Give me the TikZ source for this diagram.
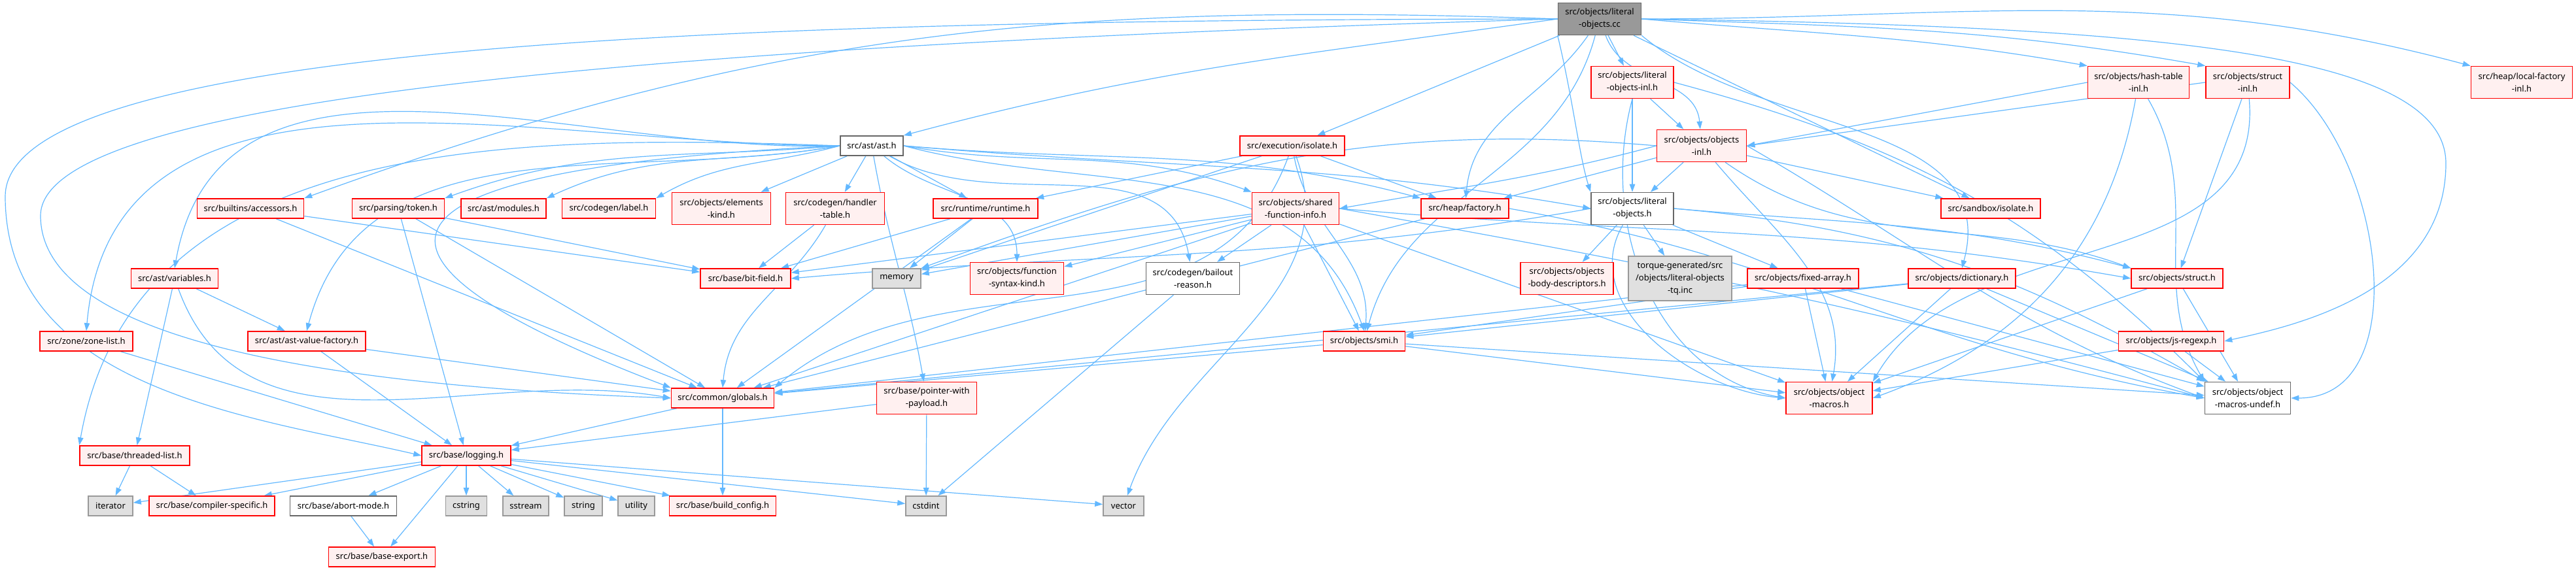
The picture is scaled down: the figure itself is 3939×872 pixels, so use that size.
\documentclass[tikz,border=0pt]{standalone}
\usepackage{fontspec}
\setmainfont{Noto Sans}
\usetikzlibrary{arrows.meta}

\definecolor{edgeblue}{HTML}{63B8FF}
\definecolor{redfill}{HTML}{FFF0F0}
\definecolor{grayfill}{HTML}{E0E0E0}
\definecolor{rootfill}{HTML}{999999}
\definecolor{grayline}{HTML}{999999}
\definecolor{darkline}{HTML}{666666}

\pgfdeclarelayer{edges}
\pgfsetlayers{edges,main}

\def\pxu{0.4} % one pixel of the graph, in pt

\tikzset{
  file/.style={draw, line width=0.64pt, align=center, inner sep=0pt,
    font=\fontsize{5.2}{7.6}\selectfont, minimum height=12pt},
  wd/.style={minimum width=#1*\pxu pt},
  redfile/.style={file, draw=red, fill=redfill},
  sysfile/.style={file, draw=grayline, fill=grayfill},
  plainfile/.style={file, draw=darkline, fill=white},
  rootfile/.style={file, draw=darkline, fill=rootfill},
  two/.style={minimum height=19.6pt},
  three/.style={minimum height=27.2pt},
  edge/.style={draw=edgeblue, line width=0.48pt, -{Triangle[length=4.8pt,width=3.4pt]}},
}

\begin{document}
\begin{tikzpicture}[x=\pxu pt, y=-\pxu pt]
% ---- row y-coordinates ----
\def\yA{29}    % the .cc file
\def\yB{126}   % -inl headers
\def\yC{223}   % ast.h, isolate.h, objects-inl.h
\def\yD{319}   % first wide row
\def\yE{426}   % second wide row
\def\yF{522}   % zone-list, smi, js-regexp
\def\yG{609}   % globals, object-macros
\def\yH{697}   % logging
\def\yI{774}   % system headers
\def\yJ{852}   % base-export

\useasboundingbox (0,0) rectangle (3939,872);

% ---- top ----
\node[rootfile, two, wd=127] (root) at (2446,\yA) {src/objects/literal\\-objects.cc};

% ---- -inl headers ----
\node[redfile, two, wd=126] (litinl) at (2496,\yB) {src/objects/literal\\-objects-inl.h};
\node[redfile, two, wd=155] (hashinl) at (3270,\yB) {src/objects/hash-table\\-inl.h};
\node[redfile, two, wd=128] (structinl) at (3437,\yB) {src/objects/struct\\-inl.h};
\node[redfile, two, wd=155] (localfac) at (3856,\yB) {src/heap/local-factory\\-inl.h};

% ---- row C ----
\node[plainfile, wd=96] (ast) at (1333,\yC) {src/ast/ast.h};
\node[redfile, wd=160] (exiso) at (1976,\yC) {src/execution/isolate.h};
\node[redfile, two, wd=137] (objinl) at (2602,\yC) {src/objects/objects\\-inl.h};

% ---- row D ----
\node[redfile, wd=163] (accessors) at (383,\yD) {src/builtins/accessors.h};
\node[redfile, wd=141] (token) at (609,\yD) {src/parsing/token.h};
\node[redfile, wd=130] (modules) at (770,\yD) {src/ast/modules.h};
\node[redfile, wd=143] (label) at (931,\yD) {src/codegen/label.h};
\node[redfile, two, wd=151] (elements) at (1103,\yD) {src/objects/elements\\-kind.h};
\node[redfile, two, wd=151] (handler) at (1277,\yD) {src/codegen/handler\\-table.h};
\node[redfile, wd=160] (runtime) at (1507,\yD) {src/runtime/runtime.h};
\node[redfile, two, wd=133] (sfi) at (1981,\yD) {src/objects/shared\\-function-info.h};
\node[redfile, wd=134] (factory) at (2240,\yD) {src/heap/factory.h};
\node[plainfile, two, wd=126] (litobj) at (2496,\yD) {src/objects/literal\\-objects.h};
\node[redfile, wd=152] (sbiso) at (3044,\yD) {src/sandbox/isolate.h};

% ---- row E ----
\node[redfile, wd=133] (variables) at (267,\yE) {src/ast/variables.h};
\node[redfile, wd=138] (bitfield) at (1140,\yE) {src/base/bit-field.h};
\node[sysfile, wd=74] (memory) at (1371,\yE) {memory};
\node[redfile, two, wd=143] (fsk) at (1555,\yE) {src/objects/function\\-syntax-kind.h};
\node[plainfile, two, wd=143] (bailout) at (1824,\yE) {src/codegen/bailout\\-reason.h};
\node[redfile, two, wd=142] (obd) at (2396,\yE) {src/objects/objects\\-body-descriptors.h};
\node[sysfile, three, wd=158] (torque) at (2569,\yE) {torque-generated/src\\/objects/literal-objects\\-tq.inc};
\node[redfile, wd=170] (fixedarr) at (2757,\yE) {src/objects/fixed-array.h};
\node[redfile, wd=164] (dict) at (3000,\yE) {src/objects/dictionary.h};
\node[redfile, wd=140] (structh) at (3329,\yE) {src/objects/struct.h};

% ---- row F ----
\node[redfile, wd=142] (zonelist) at (132,\yF) {src/zone/zone-list.h};
\node[redfile, wd=180] (avf) at (469,\yF) {src/ast/ast-value-factory.h};
\node[redfile, wd=125] (smi) at (2086,\yF) {src/objects/smi.h};
\node[redfile, wd=161] (jsregexp) at (3320,\yF) {src/objects/js-regexp.h};

% ---- row G ----
\node[redfile, wd=157] (globals) at (1105,\yG) {src/common/globals.h};
\node[redfile, two, wd=153] (pwp) at (1417,\yG) {src/base/pointer-with\\-payload.h};
\node[redfile, two, wd=132] (objmacros) at (2797,\yG) {src/objects/object\\-macros.h};
\node[plainfile, two, wd=131] (undef) at (3437,\yG) {src/objects/object\\-macros-undef.h};

% ---- row H ----
\node[redfile, wd=168] (threaded) at (206,\yH) {src/base/threaded-list.h};
\node[redfile, wd=136] (logging) at (713,\yH) {src/base/logging.h};

% ---- row I ----
\node[sysfile, wd=68] (iterator) at (169,\yI) {iterator};
\node[redfile, wd=192] (compspec) at (324,\yI) {src/base/compiler-specific.h};
\node[plainfile, wd=163] (abort) at (525,\yI) {src/base/abort-mode.h};
\node[sysfile, wd=63] (cstring) at (713,\yI) {cstring};
\node[sysfile, wd=70] (sstream) at (804,\yI) {sstream};
\node[sysfile, wd=58] (string) at (892,\yI) {string};
\node[sysfile, wd=56] (utility) at (973,\yI) {utility};
\node[redfile, wd=163] (buildcfg) at (1105,\yI) {src/base/build\_config.h};
\node[sysfile, wd=62] (cstdint) at (1416,\yI) {cstdint};
\node[sysfile, wd=62] (vector) at (1718,\yI) {vector};

% ---- row J ----
\node[redfile, wd=163] (baseexport) at (584,\yJ) {src/base/base-export.h};

\begin{pgfonlayer}{edges}
% ---- edges from the .cc file ----
\draw[edge] (root) -- (litinl);
\draw[edge] (root) to[out=-70,in=95] (objinl);
\draw[edge] (root.south west) .. controls (2405,150) and (2415,240) .. (litobj.north west);
\draw[edge] (root) to[out=-105,in=75] (smi);
\draw[edge] (root) to[out=-125,in=85] (factory);
\draw[edge] (root) -- (exiso);
\draw[edge] (root.west) to[out=188,in=15] (ast.north east);
\draw[edge] (root.west) to[out=178,in=20] (accessors.north east);
\draw[edge] (root.west) .. controls (1200,30) and (10,60) .. (8,300) .. controls (8,600) and (400,640) .. (logging.west);
\draw[edge] (root.west) .. controls (1000,70) and (62,150) .. (62,330) .. controls (62,520) and (500,590) .. (globals.west);
\draw[edge] (root.east) to[out=-5,in=170] (hashinl.north west);
\draw[edge] (root.east) to[out=-2,in=170] (structinl.north west);
\draw[edge] (root.east) to[out=0,in=165] (localfac.north west);
\draw[edge] (root) -- (sbiso);
\draw[edge] (root.south east) to[out=-40,in=75] (dict.north);
\draw[edge] (root.east) .. controls (3300,40) and (3740,80) .. (3740,250) .. controls (3740,450) and (3500,500) .. (jsregexp.east);

% ---- edges from the -inl headers ----
\draw[edge] (litinl) -- (objinl);
\draw[edge] (litinl) -- (litobj);
\draw[edge] (litinl.south) to[out=-105,in=170] (objmacros.west);
\draw[edge] (litinl.east) to[out=-15,in=135] (undef.north west);
\draw[edge] (hashinl.west) -- (objinl.east);
\draw[edge] (hashinl) to[out=-100,in=20] (objmacros.east);
\draw[edge] (hashinl) to[out=-60,in=120] (undef.north west);
\draw[edge] (structinl.west) -- (objinl.east);
\draw[edge] (structinl) -- (structh);
\draw[edge] (structinl) to[out=-85,in=60] (objmacros.north east);
\draw[edge] (structinl.east) to[out=-40,in=0] (undef.east);

% ---- edges from objects-inl.h ----
\draw[edge] (objinl) -- (litobj);
\draw[edge] (objinl) -- (factory);
\draw[edge] (objinl.west) to[out=195,in=10] (sfi.east);
\draw[edge] (objinl.west) to[out=175,in=20] (memory.north east);
\draw[edge] (objinl) -- (sbiso);
\draw[edge] (objinl) to[out=-50,in=80] (objmacros);
\draw[edge] (objinl.east) to[out=-30,in=160] (undef.west);
\draw[edge] (objinl) to[out=-35,in=160] (structh.north west);

% ---- edges from ast.h ----
\draw[edge] (ast.west) to[out=185,in=20] (token.north east);
\draw[edge] (ast.west) to[out=190,in=25] (modules.north east);
\draw[edge] (ast.west) to[out=195,in=30] (label.north east);
\draw[edge] (ast) -- (elements);
\draw[edge] (ast) -- (handler);
\draw[edge] (ast) -- (runtime);
\draw[edge] (ast.east) to[out=-10,in=160] (sfi.north west);
\draw[edge] (ast) to[out=-40,in=90] (fsk);
\draw[edge] (ast) to[out=-30,in=100] (bailout);
\draw[edge] (ast.west) to[out=182,in=80] (variables.north);
\draw[edge] (ast.west) to[out=180,in=85] (zonelist.north);
\draw[edge] (ast.west) to[out=178,in=80] (threaded.north west);
\draw[edge] (ast.west) to[out=190,in=75] (avf.north);
\draw[edge] (ast.west) .. controls (500,260) and (520,400) .. (globals.north west);
\draw[edge] (ast) to[out=-80,in=100] (pwp);
\draw[edge] (ast.east) to[out=-5,in=165] (factory.north west);
\draw[edge] (ast.east) to[out=-5,in=170] (litobj.west);
\draw[edge] (ast.east) to[out=-15,in=110] (smi.north);

% ---- edges from isolate.h ----
\draw[edge] (exiso) -- (runtime);
\draw[edge] (exiso) -- (memory);
\draw[edge] (exiso) to[out=-110,in=40] (globals.north east);
\draw[edge] (exiso) -- (factory);
\draw[edge] (exiso) to[out=-80,in=85] (smi);
\draw[edge] (exiso) to[out=-70,in=70] (vector);

% ---- edges from row D ----
\draw[edge] (accessors) -- (bitfield);
\draw[edge] (accessors) -- (globals);
\draw[edge] (token) -- (bitfield);
\draw[edge] (token) -- (globals);
\draw[edge] (token) -- (logging);
\draw[edge] (handler) -- (bitfield);
\draw[edge] (handler) to[out=-120,in=85] (globals.north);
\draw[edge] (runtime) -- (bitfield);
\draw[edge] (runtime) -- (memory);
\draw[edge] (runtime) -- (globals);
\draw[edge] (sfi) -- (bitfield);
\draw[edge] (sfi) -- (memory);
\draw[edge] (sfi) -- (fsk);
\draw[edge] (sfi) -- (bailout);
\draw[edge] (sfi) -- (globals);
\draw[edge] (sfi) -- (smi);
\draw[edge] (sfi) -- (objmacros);
\draw[edge] (sfi.east) to[out=-10,in=165] (undef.west);
\draw[edge] (sfi.east) to[out=-5,in=170] (structh.west);
\draw[edge] (factory) -- (globals);
\draw[edge] (factory.east) to[out=-10,in=170] (undef.west);
\draw[edge] (litobj.west) to[out=190,in=5] (bitfield.east);
\draw[edge] (litobj) -- (obd);
\draw[edge] (litobj) -- (torque);
\draw[edge] (litobj) -- (fixedarr);
\draw[edge] (litobj) to[out=-120,in=175] (objmacros.west);
\draw[edge] (litobj.east) to[out=-5,in=150] (undef.north west);
\draw[edge] (litobj.east) to[out=-5,in=165] (structh.north west);

% ---- edges from row E ----
\draw[edge] (variables) -- (threaded);
\draw[edge] (variables) -- (avf);
\draw[edge] (variables) to[out=-70,in=170] (globals.west);
\draw[edge] (fixedarr) -- (smi);
\draw[edge] (fixedarr) -- (objmacros);
\draw[edge] (fixedarr) -- (undef);
\draw[edge] (fixedarr) -- (globals);
\draw[edge] (dict) -- (smi);
\draw[edge] (dict) -- (globals);
\draw[edge] (dict) -- (objmacros);
\draw[edge] (dict) -- (undef);
\draw[edge] (structh) -- (objmacros);
\draw[edge] (structh) -- (undef);
\draw[edge] (bailout) -- (cstdint);

% ---- edges from row F ----
\draw[edge] (zonelist) -- (logging);
\draw[edge] (avf) -- (logging);
\draw[edge] (avf) -- (globals);
\draw[edge] (smi) -- (globals);
\draw[edge] (smi) -- (objmacros);
\draw[edge] (smi) -- (undef);
\draw[edge] (jsregexp) -- (objmacros);
\draw[edge] (jsregexp) -- (undef);

% ---- edges from row G and below ----
\draw[edge] (globals) -- (buildcfg);
\draw[edge] (globals) -- (logging);
\draw[edge] (pwp) -- (cstdint);
\draw[edge] (pwp) -- (logging);
\draw[edge] (threaded) -- (iterator);
\draw[edge] (threaded) -- (compspec);
\foreach \b in {iterator,compspec,abort,baseexport,cstring,sstream,string,utility,buildcfg,cstdint,vector}
  \draw[edge] (logging) -- (\b);
\draw[edge] (abort) -- (baseexport);
\end{pgfonlayer}

\end{tikzpicture}
\end{document}
